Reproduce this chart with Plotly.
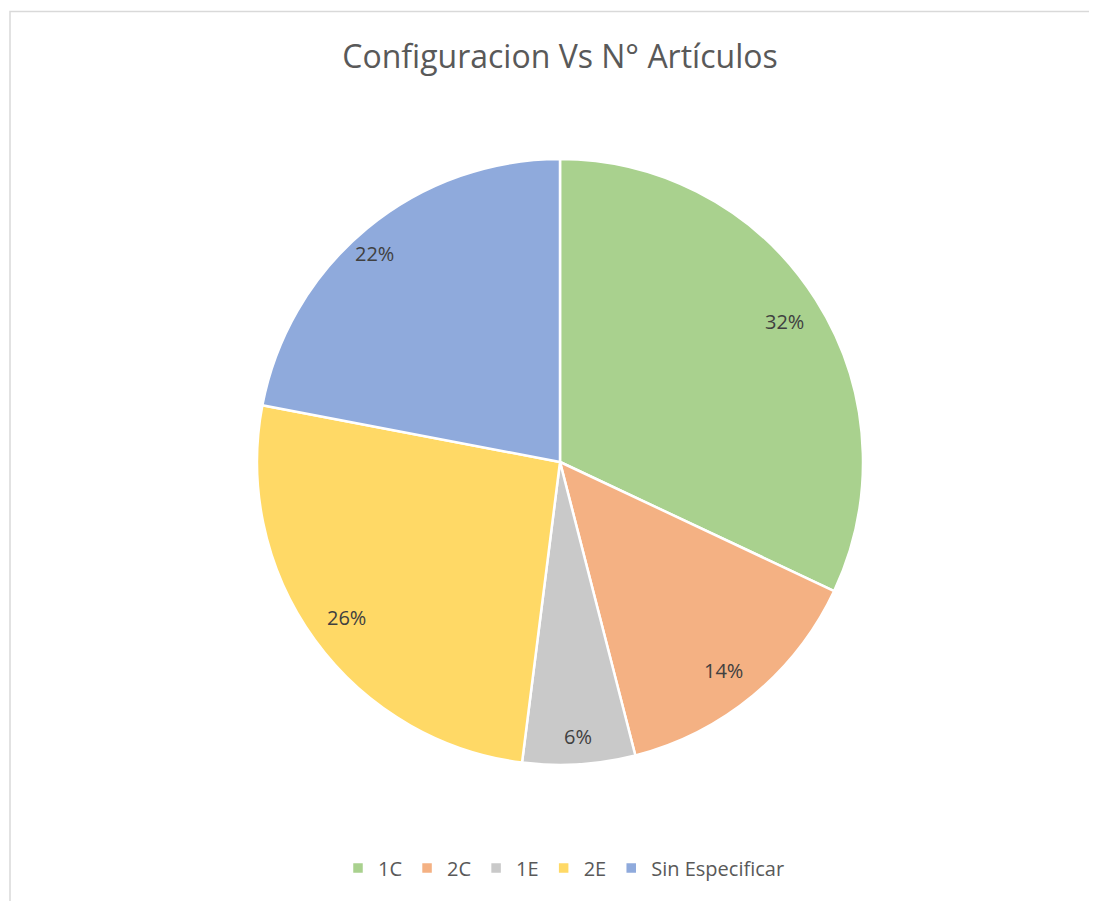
import math
import plotly.graph_objects as go

# data
labels = ['1C', '2C', '1E', '2E', 'Sin Especificar']
values = [32, 14, 6, 26, 22]
colors = ['#A9D18E', '#F4B183', '#C9C9C9', '#FFD966', '#8FAADC']

W, H = 1097, 901

# pie placement (figure pixels)
cx, cy, r = 552, 454, 303
dom_x = [(cx - r) / W, (cx + r) / W]
dom_y = [1 - (cy + r) / H, 1 - (cy - r) / H]

fig = go.Figure()

fig.add_trace(
    go.Pie(
        labels=labels,
        values=values,
        sort=False,
        direction='clockwise',
        rotation=0,
        marker=dict(colors=colors, line=dict(color='white', width=2.5)),
        textinfo='none',
        hoverinfo='label+value+percent',
        domain=dict(x=dom_x, y=dom_y),
    )
)

# percentage labels near the outer edge of each slice (like Excel "best fit")
total = sum(values)
cum = 0
for v in values:
    ang = math.radians((cum + v / 2) / total * 360)
    cum += v
    rr = 0.96 * r
    fig.add_annotation(
        x=(cx + rr * math.sin(ang)) / W,
        y=1 - (cy - rr * math.cos(ang)) / H,
        xref='paper', yref='paper',
        text=f'{round(v / total * 100)}%',
        showarrow=False,
        font=dict(family='Open Sans', size=20, color='#404040'),
    )

# chart area border
fig.add_shape(
    type='rect', xref='paper', yref='paper',
    x0=2 / W, x1=1088 / W, y0=-0.05, y1=1 - 3.5 / H,
    line=dict(color='#D9D9D9', width=1.5), fillcolor='rgba(0,0,0,0)'
)

fig.update_layout(
    width=W,
    height=H,
    margin=dict(t=0, l=0, r=0, b=0),
    paper_bgcolor='white',
    plot_bgcolor='white',
    title=dict(
        text='Configuracion Vs N° Artículos',
        x=552 / W, xanchor='center',
        y=1 - 49 / H, yanchor='middle',
        font=dict(family='Open Sans', size=32, color='#595959'),
    ),
    showlegend=True,
    legend=dict(
        orientation='h',
        x=556 / W, xanchor='center',
        y=1 - 860 / H, yanchor='middle',
        font=dict(family='Open Sans', size=20, color='#595959'),
        traceorder='normal',
    ),
)

fig.write_html('out.html')
